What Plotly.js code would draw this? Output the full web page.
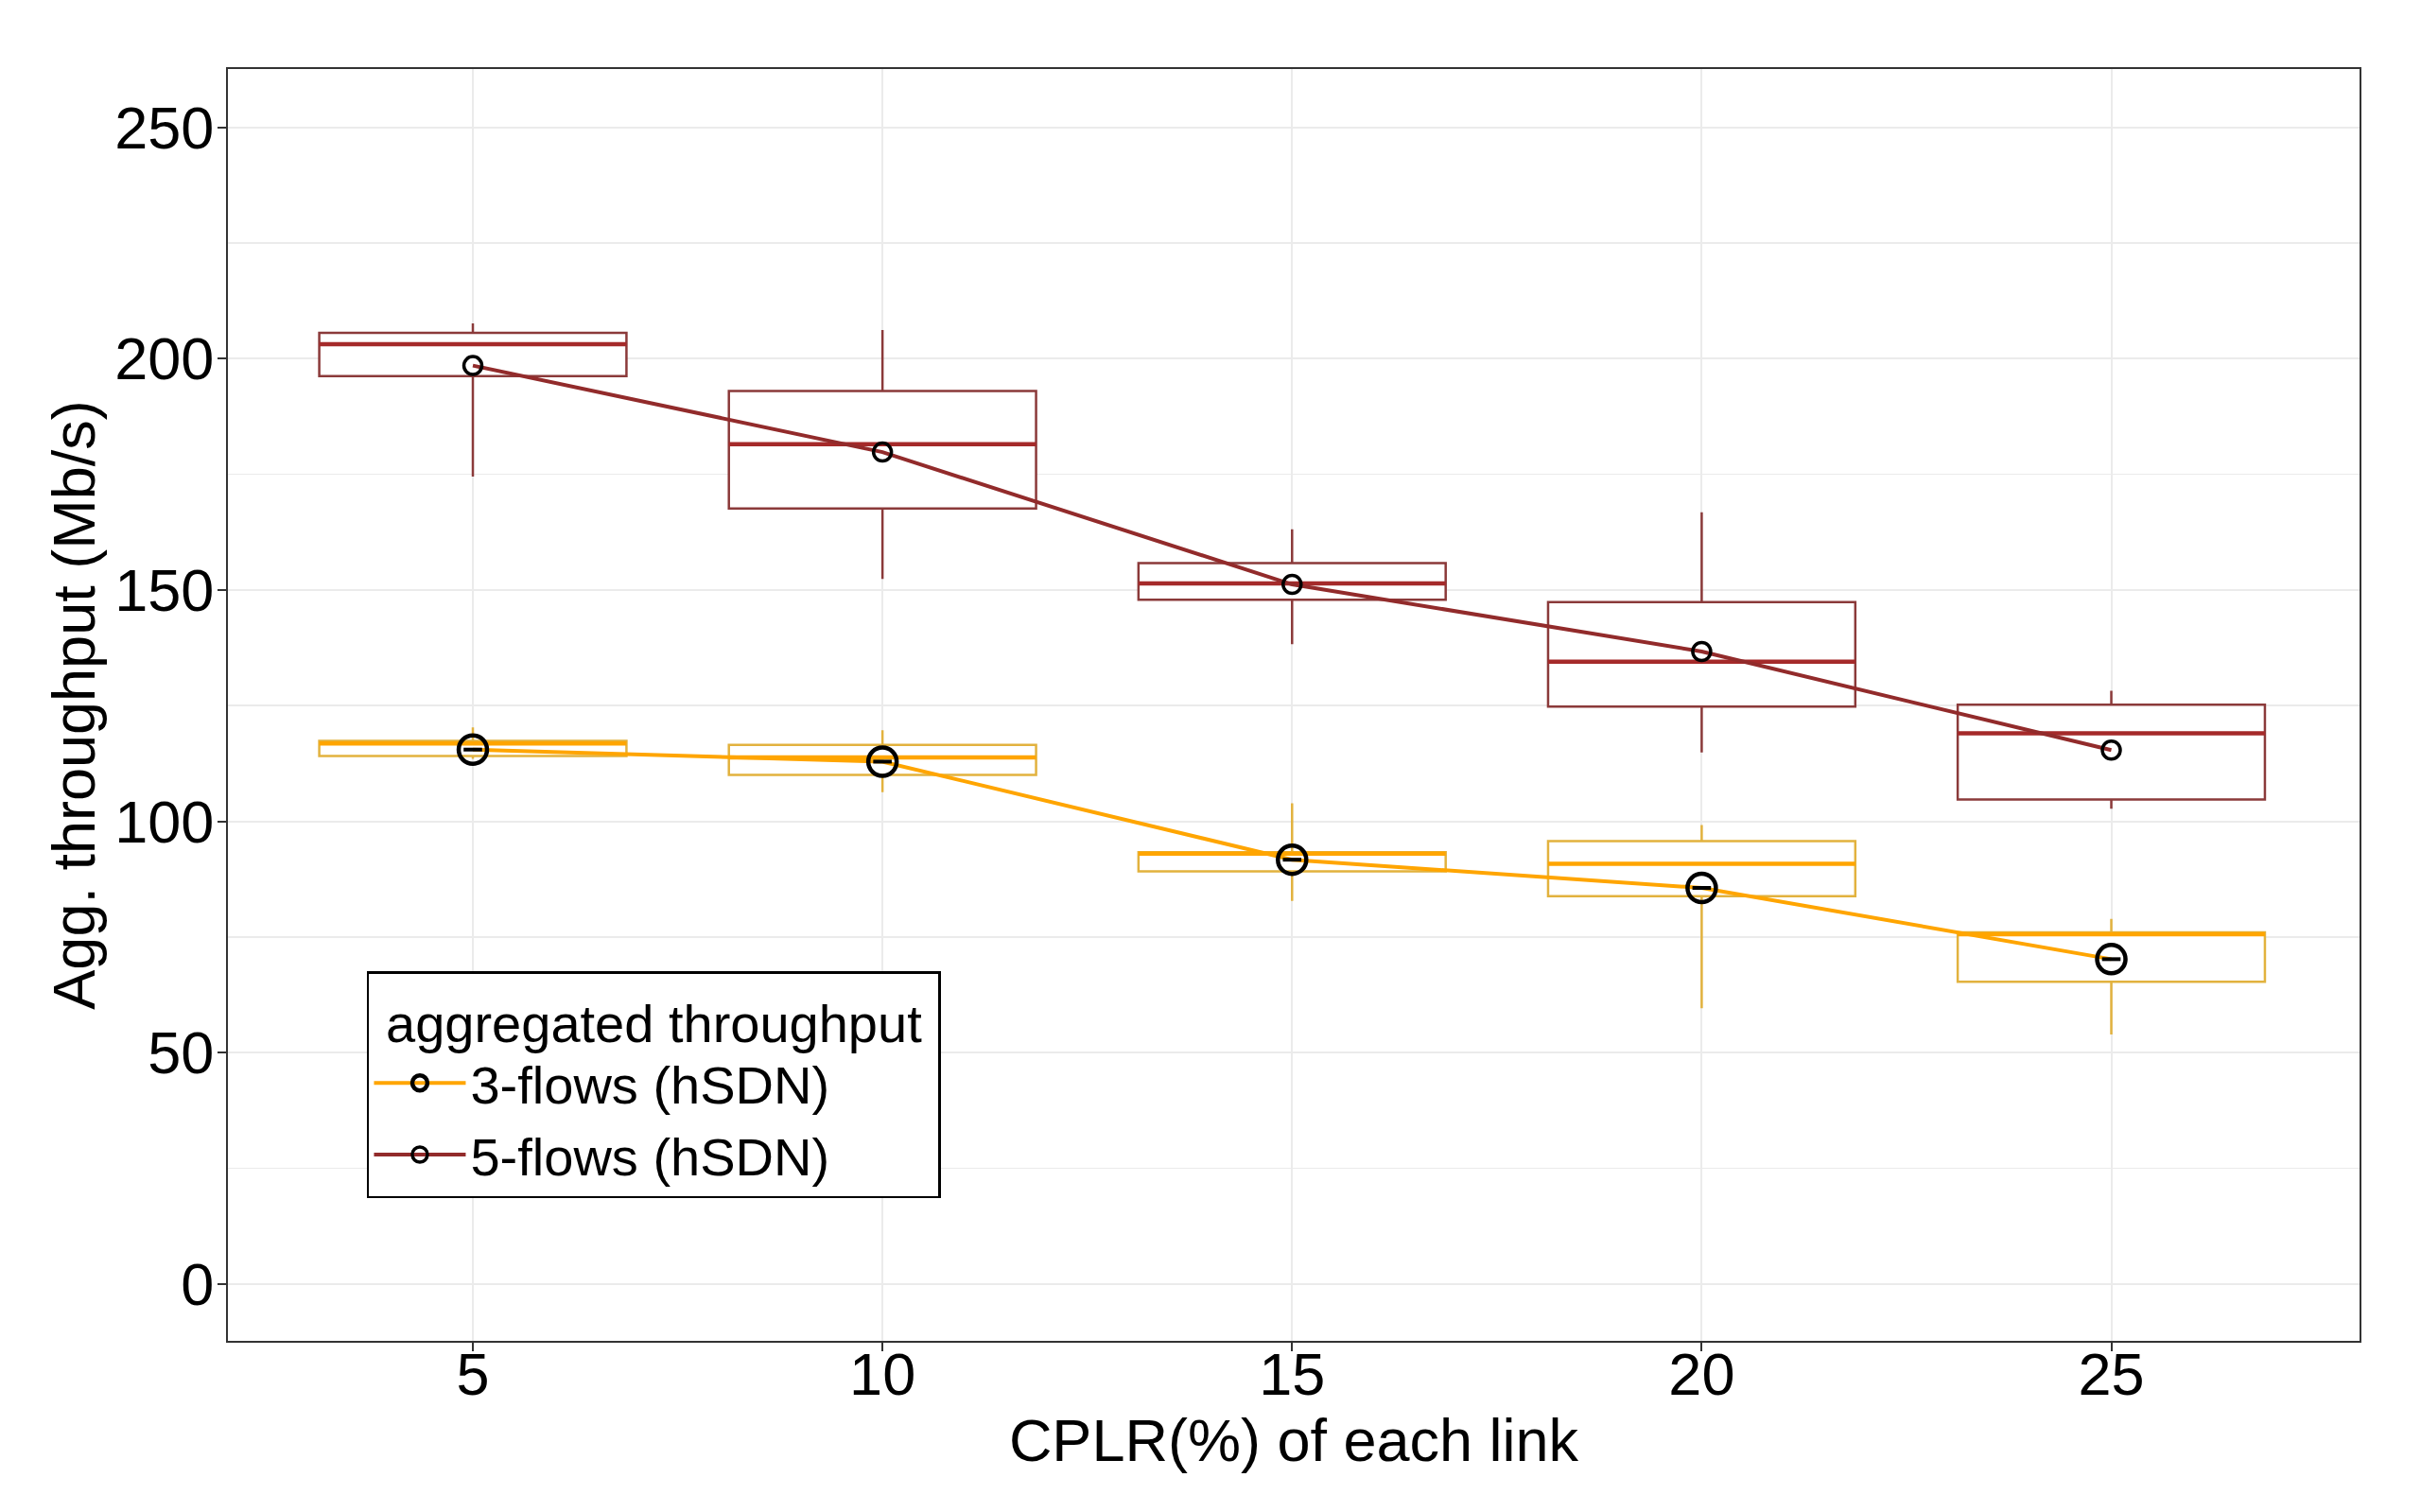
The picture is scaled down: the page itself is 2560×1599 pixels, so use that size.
<!DOCTYPE html>
<html>
<head>
<meta charset="utf-8">
<script src="https://cdn.plot.ly/plotly-3.0.1.min.js"></script>
<style>html,body{margin:0;padding:0;background:#fff;}#chart{width:2560px;height:1599px;}</style>
</head>
<body>
<div id="chart"></div>
<script>
// ---- data ----
const cplr = [5, 10, 15, 20, 25];
const xTickLabels = ["5", "10", "15", "20", "25"];
const yTickVals = [0, 50, 100, 150, 200, 250];

// 5-flows (hSDN)
const f5_lower  = [174.5, 152.4, 138.3, 114.9, 102.7];
const f5_q1     = [196.2, 167.6, 147.9, 124.8, 104.7];
const f5_median = [203.1, 181.5, 151.4, 134.5, 119.0];
const f5_q3     = [205.6, 193.0, 155.8, 147.4, 125.2];
const f5_upper  = [207.6, 206.2, 163.1, 166.8, 128.2];
const f5_mean   = [198.5, 179.8, 151.2, 136.7, 115.4];

// 3-flows (hSDN)
const f3_lower  = [113.5, 106.3, 82.8, 59.6, 53.9];
const f3_q1     = [114.1, 110.0, 89.2, 83.8, 65.3];
const f3_median = [116.8, 113.8, 93.0, 90.8, 75.6];
const f3_q3     = [117.4, 116.5, 93.3, 95.7, 76.0];
const f3_upper  = [120.3, 119.7, 103.9, 99.2, 78.9];
const f3_mean   = [115.5, 112.9, 91.7, 85.6, 70.2];

const legendTitle = "aggregated throughput";
const name3 = "3-flows (hSDN)";
const name5 = "5-flows (hSDN)";

// ---- styles ----
const C5_box = "#8B3A3A", C5_med = "#A52A2A", C5_line = "#922B2B";
const C3_box = "#E2B23E", C3_med = "#FFA500", C3_line = "#FFA500";
const BOXW = 3.75;

function boxTrace(lo, q1, med, q3, hi, color, lw, fill) {
  return {
    type: "box", x: cplr, lowerfence: lo, q1: q1, median: med, q3: q3, upperfence: hi,
    width: BOXW, whiskerwidth: 0, boxpoints: false,
    line: {color: color, width: lw}, fillcolor: fill,
    showlegend: false, hoverinfo: "skip"
  };
}

const traces = [
  boxTrace(f5_lower, f5_q1, f5_median, f5_q3, f5_upper, C5_box, 2.5, "white"),
  boxTrace(f5_median, f5_median, f5_median, f5_median, f5_median, C5_med, 4.5, "rgba(0,0,0,0)"),
  boxTrace(f3_lower, f3_q1, f3_median, f3_q3, f3_upper, C3_box, 2.5, "white"),
  boxTrace(f3_median, f3_median, f3_median, f3_median, f3_median, C3_med, 4.5, "rgba(0,0,0,0)"),
  {
    type: "scatter", mode: "lines+markers", x: cplr, y: f3_mean, name: name3,
    line: {color: C3_line, width: 4},
    marker: {symbol: "circle-open", size: 30, color: "black", line: {width: 4.5}}
  },
  {
    type: "scatter", mode: "markers", x: cplr, y: f3_mean, showlegend: false, hoverinfo: "skip",
    marker: {symbol: "line-ew-open", size: 14, color: "black", line: {width: 4}}
  },
  {
    type: "scatter", mode: "lines+markers", x: cplr, y: f5_mean, name: name5,
    line: {color: C5_line, width: 4},
    marker: {symbol: "circle-open", size: 19, color: "black", line: {width: 3.5}}
  }
];

const FONT = "Liberation Sans, Arial, sans-serif";
const NB = "\u00A0";
const layout = {
  width: 2560, height: 1599,
  margin: {l: 241, r: 65, t: 73, b: 181},
  paper_bgcolor: "white", plot_bgcolor: "white",
  font: {family: FONT, color: "black", size: 56},
  boxmode: "overlay",
  xaxis: {
    range: [2.01, 28.03], tickvals: cplr, ticktext: xTickLabels,
    ticks: "outside", ticklen: 9, tickwidth: 2, tickcolor: "#333333",
    ticklabelstandoff: -30,
    tickfont: {family: FONT, size: 63, color: "black"},
    showgrid: true, gridcolor: "#EBEBEB", gridwidth: 2, zeroline: false,
    showline: true, mirror: true, linecolor: "#333333", linewidth: 2,
    title: {text: "CPLR(%) of each link", font: {family: FONT, size: 63, color: "black"}, standoff: 12}
  },
  yaxis: {
    range: [-12.3, 262.6], tickvals: yTickVals,
    ticks: "outside", ticklen: 9, tickwidth: 2, tickcolor: "#333333",
    ticklabelstandoff: -9,
    tickfont: {family: FONT, size: 63, color: "black"},
    showgrid: true, gridcolor: "#EBEBEB", gridwidth: 2, zeroline: false,
    minor: {dtick: 25, tick0: 0, showgrid: true, gridcolor: "#EBEBEB", gridwidth: 1.5, ticks: ""},
    showline: true, mirror: true, linecolor: "#333333", linewidth: 2,
    title: {text: "Agg. throughput (Mb/s)", font: {family: FONT, size: 63, color: "black"}, standoff: 0}
  },
  legend: {
    x: 0.0652, y: 0.2907, xanchor: "left", yanchor: "top",
    bgcolor: "white", bordercolor: "black", borderwidth: 2.5,
    font: {family: FONT, size: 56, color: "black"},
    title: {text: NB + legendTitle + NB, font: {family: FONT, size: 56, color: "black"}},
    itemwidth: 97, traceorder: "normal"
  },
  showlegend: true
};

Plotly.newPlot("chart", traces, layout, {staticPlot: true, displayModeBar: false});
</script>
</body>
</html>
